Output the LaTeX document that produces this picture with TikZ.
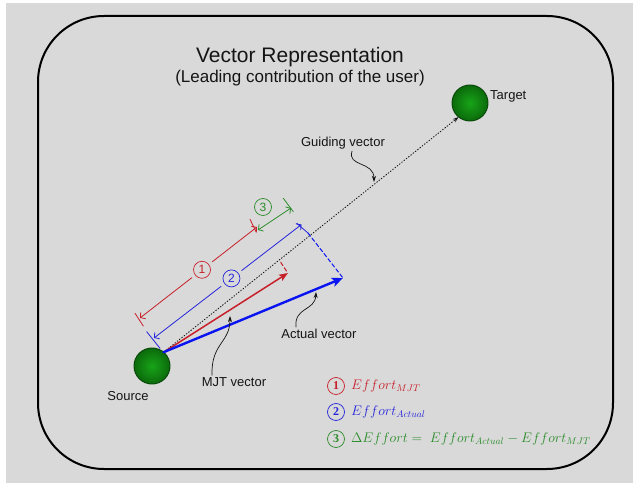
\documentclass[tikz,border=0pt]{standalone}
\usepackage{fontspec}
\setmainfont{Liberation Sans}
\newfontfamily\numfont{Liberation Serif}
\usepackage{tikz}
\usetikzlibrary{
  arrows.meta,
  calc
}
\definecolor{VrGray}{HTML}{D9D9D9}
\definecolor{VrRed}{HTML}{C8202A}
\definecolor{VrBlue}{HTML}{2424DC}
\definecolor{VrArrowBlue}{HTML}{0A14F0}
\definecolor{VrGreen}{HTML}{2A8C2A}
\definecolor{VrBallLight}{HTML}{18A418}
\definecolor{VrBallDark}{HTML}{0B6A0B}
\definecolor{VrBallRim}{HTML}{0A4A0A}
\definecolor{VrBlack}{HTML}{151515}
\tikzset{
  every picture/.style = {line join=round, line cap=round},
  every node/.style = {text=VrBlack},
  frame/.style = {draw=black, line width=2pt, rounded corners=66pt},
  title/.style = {font=\fontsize{21}{25}\selectfont},
  subtitle/.style = {font=\fontsize{17}{20}\selectfont},
  label text/.style = {font=\fontsize{13}{15}\selectfont, inner sep=2pt},
  ball/.style = {
    circle,
    minimum size=36pt,
    inner sep=0pt,
    outer sep=0pt,
    draw=VrBallRim,
    line width=1pt,
    inner color=VrBallLight,
    outer color=VrBallDark
  },
  guide/.style = {-{Stealth[length=6pt,width=4pt]}, draw=VrBlack, line width=0.9pt, dotted},
  vec red/.style = {-{Stealth[length=9pt,width=7pt,inset=2pt]}, draw=VrRed, line width=1.5pt},
  vec blue/.style = {-{Stealth[length=11pt,width=9pt,inset=2.5pt]}, draw=VrArrowBlue, line width=2.4pt},
  dim/.style = {line width=0.8pt},
  dim tip/.style = {{Straight Barb[length=3.5pt,width=8pt]}-{Straight Barb[length=3.5pt,width=8pt]}},
  dim red/.style = {dim, draw=VrRed},
  dim blue/.style = {dim, draw=VrBlue},
  dim green/.style = {dim, draw=VrGreen},
  proj/.style = {line width=1pt, dash pattern=on 4pt off 2.5pt},
  callout/.style = {-{Stealth[length=6pt,width=4pt]}, draw=VrBlack, line width=0.7pt},
  num/.style = {
    circle,
    draw,
    line width=0.7pt,
    minimum size=17pt,
    inner sep=0pt,
    outer sep=4.5pt,
    font=\fontsize{12}{12}\selectfont
  },
  legend num/.style = {
    circle,
    draw,
    line width=0.7pt,
    minimum size=17pt,
    inner sep=0pt,
    font=\numfont\bfseries\fontsize{12}{12}\selectfont
  },
  legend text/.style = {font=\fontsize{14.4}{16}\selectfont, scale=0.965, transform shape, anchor=west, inner sep=1pt}
}

\begin{document}
\begin{tikzpicture}[x=1pt,y=1pt]
  \useasboundingbox (0,0) rectangle (633,483);
  \fill[VrGray] (6,0) rectangle (633,480);
  \draw[frame] (38,14) rectangle (613,467);

  \node[title] (title) at (300,426) {Vector Representation};
  \node[subtitle] (subtitle) at (300,405) {(Leading contribution of the user)};

  \node[ball] (src) at (152,117) {};
  \node[ball] (tgt) at (470,380) {};
  \node[label text, anchor=west] (tgtlabel) at (488,387) {Target};
  \node[label text] (srclabel) at (128,87) {Source};

  \coordinate (mjt) at (288,210);
  \coordinate (act) at (343,205);

  \draw[guide] (src.50) -- (tgt.231);
  \draw[vec red] (src.50) -- (mjt);
  \draw[vec blue] (src.50) -- (act);

  \draw[proj, draw=VrRed] (286.5,212) -- (279.5,222.5);
  \draw[dim blue] (296.7,259.7) -- (308,250);
  \draw[proj, draw=VrArrowBlue] (308,250) -- (act);

  \coordinate (r1) at (140,165);
  \coordinate (r2) at (257,256);
  \coordinate (b1) at (154,145);
  \coordinate (b2) at (301.5,258.5);
  \coordinate (g1) at (258,253);
  \coordinate (g2) at (291,275);

  \node[num, draw=VrRed, text=VrRed] (n1) at ($(r1)!0.53!(r2)$) {1};
  \node[num, draw=VrBlue, text=VrBlue] (n2) at ($(b1)!0.525!(b2)$) {2};
  \node[num, draw=VrGreen, text=VrGreen, outer sep=0pt] (n3) at (263,276) {3};

  \draw[dim red, {Straight Barb[length=3.5pt,width=8pt]}-] (r1) -- (n1);
  \draw[dim red, -{Straight Barb[length=3.5pt,width=8pt]}] (n1) -- (r2);
  \draw[dim blue, {Straight Barb[length=3.5pt,width=8pt]}-] (b1) -- (n2);
  \draw[dim blue, -{Straight Barb[length=3.5pt,width=8pt]}] (n2) -- (b2);
  \draw[dim green, dim tip] (g1) -- (g2);

  \draw[dim red] (135,169.7) -- (143.3,157);
  \draw[dim red] (250,263.7) -- (256,251.3);
  \draw[dim blue] (146.7,151.3) -- (160,134.7);
  \draw[dim green] (283.3,284.7) -- (293.3,271.3);

  \node[label text] (gvlabel) at (343,340) {Guiding vector};
  \node[label text] (avlabel) at (319,149) {Actual vector};
  \node[label text] (mvlabel) at (234,101) {MJT vector};
  \draw[callout] ([xshift=9pt]gvlabel.south) .. controls (347,316) and (374,322) .. (374,301);
  \draw[callout] ([xshift=-23pt]avlabel.north) .. controls (294,176) and (315,172) .. (316,191);
  \draw[callout] ([xshift=-22pt]mvlabel.north) .. controls (211,140) and (230,140) .. (230,167);

  \node[legend num, draw=VrRed, text=VrRed] (k1) at (336,97) {1};
  \node[legend num, draw=VrBlue, text=VrBlue] (k2) at (336,71) {2};
  \node[legend num, draw=VrGreen, text=VrGreen] (k3) at (336,44) {3};
  \node[legend text, text=VrRed] (e1) at (350,97) {$Effort_{MJT}$};
  \node[legend text, text=VrBlue] (e2) at (350,71) {$Effort_{Actual}$};
  \node[legend text, text=VrGreen] (e3) at (350,44) {$\Delta Effort = \; Effort_{Actual} - Effort_{MJT}$};
\end{tikzpicture}
\end{document}
